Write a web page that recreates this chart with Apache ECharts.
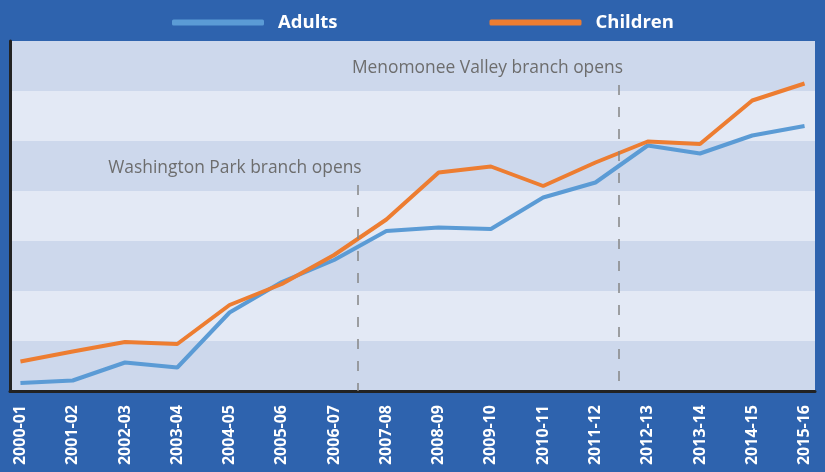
<!DOCTYPE html>
<html>
<head>
<meta charset="utf-8">
<script src="https://cdn.jsdelivr.net/npm/echarts@6/dist/echarts.min.js"></script>
<style>
  html, body { margin: 0; padding: 0; background: #2e63ae; }
  #main { width: 825px; height: 472px; }
</style>
</head>
<body>
<div id="main"></div>
<script>
// fiscal years on the x axis
var years = ['2000-01', '2001-02', '2002-03', '2003-04', '2004-05', '2005-06', '2006-07', '2007-08',
  '2008-09', '2009-10', '2010-11', '2011-12', '2012-13', '2013-14', '2014-15', '2015-16'];

// values (no y scale is shown, so units are arbitrary)
var adults = [1.6, 2.1, 5.7, 4.7, 15.7, 21.8, 26.2, 32.0, 32.7, 32.4, 38.7, 41.7, 49.1, 47.5, 51.1, 53.0];
var children = [5.9, 7.9, 9.8, 9.4, 17.2, 21.4, 27.2, 34.3, 43.7, 44.9, 41.0, 45.7, 49.9, 49.4, 58.1, 61.5];

// branch openings: position between years, top of the dashed line
var events = [
  { name: 'Washington Park branch opens', x: 6.45, top: 41.2 },
  { name: 'Menomonee Valley branch opens', x: 11.45, top: 61.2 }
];

function pairs(arr) {
  return arr.map(function (v, i) { return [i, v]; });
}

var myChart = echarts.init(document.getElementById('main'));

var option = {
  backgroundColor: '#2e63ae',
  animation: false,
  legend: {
    left: 167,
    top: 8,
    itemWidth: 92,
    itemHeight: 6,
    itemGap: 152,
    icon: 'roundRect',
    textStyle: {
      color: '#ffffff',
      fontFamily: 'Open Sans',
      fontWeight: 'bold',
      fontSize: 18.5,
      padding: [0, 0, 0, 9]
    },
    data: ['Adults', 'Children']
  },
  grid: {
    left: 10,
    right: 10,
    top: 41,
    bottom: 81
  },
  xAxis: {
    type: 'value',
    min: -0.2,
    max: 15.2,
    splitLine: { show: false },
    axisLine: { show: true, onZero: false, lineStyle: { color: '#222222', width: 3 } },
    axisTick: { show: false },
    axisLabel: {
      customValues: years.map(function (y, i) { return i; }),
      formatter: function (v) { return years[v]; },
      rotate: 90,
      margin: 14,
      color: '#ffffff',
      fontFamily: 'Open Sans',
      fontWeight: 'bold',
      fontSize: 16
    }
  },
  yAxis: {
    type: 'value',
    min: 0,
    max: 70,
    interval: 10,
    axisLine: { show: true, onZero: false, lineStyle: { color: '#222222', width: 3 } },
    axisTick: { show: false },
    axisLabel: { show: false },
    splitLine: { show: false },
    splitArea: {
      show: true,
      areaStyle: { color: ['#cdd8ec', '#e3e9f5'] }
    }
  },
  series: [
    {
      name: 'Adults',
      type: 'line',
      data: pairs(adults),
      symbol: 'none',
      color: '#5b9bd5',
      lineStyle: { width: 4, color: '#5b9bd5' },
      z: 3,
      markLine: {
        silent: true,
        symbol: 'none',
        lineStyle: { color: '#858585', width: 1.5, type: [10, 12] },
        label: {
          show: true,
          position: 'start',
          align: 'right',
          distance: 8,
          offset: [4, 0],
          color: '#6d6d6d',
          fontFamily: 'Open Sans',
          fontSize: 17.4,
          formatter: '{b}'
        },
        data: events.map(function (e) {
          return [{ name: e.name, coord: [e.x, e.top] }, { coord: [e.x, 0] }];
        })
      }
    },
    {
      name: 'Children',
      type: 'line',
      data: pairs(children),
      symbol: 'none',
      color: '#ed7d31',
      lineStyle: { width: 4, color: '#ed7d31' },
      z: 4
    }
  ]
};

myChart.setOption(option);
window.onresize = function () {
  myChart.resize();
};
</script>
</body>
</html>
